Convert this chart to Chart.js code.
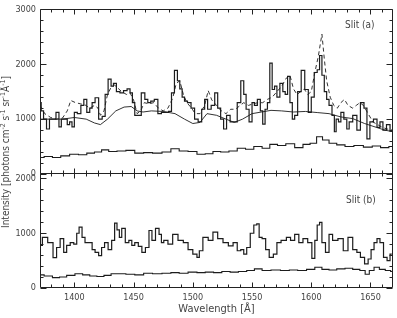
<!DOCTYPE html>
<html><head><meta charset="utf-8">
<script src="https://cdn.jsdelivr.net/npm/chart.js@4/dist/chart.umd.min.js"></script>
<style>
html,body{margin:0;padding:0;background:#fff;}
#wrap{position:relative;width:397px;height:318px;overflow:hidden;font-family:'Liberation Sans Narrow','DejaVu Sans Condensed','Liberation Sans',Arial,sans-serif;color:#444;}
canvas{position:absolute;left:0;top:0;}
.lbl{position:absolute;font-size:10px;white-space:nowrap;line-height:1;}
#ytitle{position:absolute;left:6px;top:152px;transform:translate(-50%,-50%) rotate(-90deg);font-size:10px;white-space:nowrap;line-height:1;}
#ytitle sup{font-size:7px;vertical-align:4px;line-height:0;}
</style></head><body>
<div id="wrap">
<canvas id="top" width="397" height="318"></canvas>
<canvas id="bot" width="397" height="318"></canvas>
<div id="ytitle">Intensity [photons cm<sup>-2</sup> s<sup>-1</sup> sr<sup>-1</sup>Å<sup>-1</sup>]</div>
<div class="lbl" style="left:345px;top:20px;">Slit (a)</div>
<div class="lbl" style="left:346px;top:195px;">Slit (b)</div>
</div>
<script>
// ---- data (wavelength in Å, intensity in photons cm^-2 s^-1 sr^-1 Å^-1) ----
const xTickLabels = [1400, 1450, 1500, 1550, 1600, 1650];
const yTicksTop = [0, 1000, 2000, 3000];
const yTicksBot = [0, 1000, 2000];

// Slit (a): observed spectrum (solid histogram)
const obsAWl = [1371,1373,1375,1378,1380,1383,1386,1388,1390,1393,1395,1397,1399,1401,1404,1407,1409,1412,1414,1416,1419,1422,1425,1427,1430,1432,1434,1437,1440,1443,1446,1448,1450,1452,1455,1458,1461,1463,1466,1469,1472,1475,1478,1481,1483,1486,1488,1490,1492,1494,1497,1500,1503,1506,1509,1511,1514,1517,1520,1522,1525,1527,1530,1533,1536,1539,1542,1544,1546,1549,1551,1553,1556,1558,1560,1562,1564,1566,1568,1570,1572,1575,1577,1579,1581,1583,1585,1587,1590,1593,1596,1599,1601,1604,1606,1608,1610,1612,1614,1616,1619,1620,1622,1624,1626,1629,1631,1633,1637,1640,1643,1646,1648,1651,1654,1657,1659,1662,1665,1668];
const obsA   = [1300,1150,1000,820,1000,1000,1125,860,1000,1000,900,950,860,1125,1100,1250,1360,1125,1200,1300,1390,1000,1050,1450,1730,1600,1650,1500,1480,1520,1550,1480,1300,1070,1070,1480,1360,1300,1330,1360,1100,1125,1125,1140,1480,1890,1700,1550,1400,1330,1300,1200,1000,950,1180,1360,1180,1250,1480,1200,1000,820,1070,950,950,1300,1700,1450,1180,950,1300,1250,1360,1150,910,1180,1300,2020,1540,1600,1400,1650,1500,1450,1780,1300,1000,1070,1500,1890,1540,1125,1400,1850,1900,2160,1800,1500,1360,1250,1070,770,1000,950,1125,1000,820,950,1070,800,1300,1200,640,950,1000,850,950,800,900,780];

// Slit (a): model (dashed)
const modelAWl = [1371,1375,1380,1385,1390,1394,1397,1401,1405,1409,1413,1417,1420,1422,1425,1428,1431,1434,1437,1440,1444,1447,1450,1453,1456,1459,1463,1467,1471,1475,1479,1483,1486,1489,1492,1495,1499,1502,1506,1510,1513,1516,1520,1524,1528,1532,1536,1540,1543,1547,1551,1555,1559,1563,1567,1571,1575,1579,1582,1585,1588,1591,1594,1597,1600,1603,1606,1609,1611,1613,1616,1619,1622,1625,1628,1631,1635,1638,1641,1644,1648,1652,1656,1660,1664,1669];
const modelA   = [1250,1100,1030,1000,1020,1150,1340,1300,1280,1260,1200,1250,1200,1070,1150,1450,1580,1620,1560,1500,1450,1480,1350,1100,1150,1300,1280,1300,1200,1150,1200,1380,1650,1700,1450,1300,1200,1100,1100,1250,1520,1350,1250,1150,1100,1180,1180,1250,1300,1250,1280,1300,1300,1360,1400,1500,1600,1750,1800,1550,1450,1500,1550,1450,1500,1850,2150,2550,2100,1700,1400,1250,1200,1300,1360,1250,1200,1250,1300,1250,1100,950,900,850,820,800];

// Slit (a): smooth continuum
const contAWl = [1371,1380,1390,1400,1410,1417,1422,1428,1435,1442,1448,1453,1458,1465,1475,1485,1493,1500,1506,1512,1520,1528,1535,1542,1550,1558,1566,1575,1585,1595,1605,1615,1625,1635,1645,1655,1662,1669];
const contA   = [1000,1000,1000,1030,1000,930,900,1000,1150,1220,1230,1150,1130,1150,1140,1100,1000,920,940,1100,1070,1000,940,1000,1100,1130,1160,1150,1130,1140,1120,1100,1040,1010,920,850,800,770];

// Slit (a): lower spectrum
const lowAWl = [1371,1378,1385,1392,1400,1407,1414,1420,1426,1432,1440,1447,1455,1462,1470,1478,1485,1492,1500,1507,1514,1520,1527,1534,1541,1548,1555,1562,1568,1575,1582,1590,1596,1602,1607,1612,1618,1625,1632,1640,1648,1655,1662,1669];
const lowA   = [300,320,300,330,360,350,380,400,440,410,420,430,380,390,380,400,460,420,410,360,370,410,400,420,470,450,500,470,540,520,550,480,540,560,680,620,560,530,500,520,490,510,480,500];

// Slit (b): observed spectrum
const obsBWl = [1371,1375,1380,1384,1386,1390,1392,1395,1398,1401,1403,1405,1408,1410,1414,1416,1419,1422,1424,1427,1430,1433,1435,1437,1439,1441,1445,1447,1450,1452,1456,1458,1462,1464,1467,1470,1473,1474,1477,1481,1485,1490,1494,1498,1502,1505,1506,1511,1515,1519,1523,1528,1532,1536,1539,1542,1544,1547,1550,1553,1555,1557,1560,1563,1566,1570,1572,1577,1581,1584,1588,1591,1595,1599,1602,1604,1606,1608,1610,1614,1616,1620,1625,1629,1633,1637,1640,1643,1647,1649,1652,1654,1657,1659,1663,1665,1668];
const obsB   = [780,925,830,555,740,900,650,780,830,800,1000,1110,925,830,830,700,650,590,740,830,700,870,1185,1060,925,1090,830,870,780,830,760,650,740,1050,870,1090,980,830,870,800,980,870,830,700,620,560,680,925,870,1020,900,830,770,830,680,700,620,740,1000,1150,1170,925,900,700,560,620,830,870,925,870,980,830,900,830,540,870,1150,1200,830,650,980,870,900,680,925,700,650,560,440,530,700,830,900,830,560,500,620];

// Slit (b): lower spectrum
const lowBWl = [1371,1378,1385,1390,1397,1404,1410,1416,1422,1428,1434,1440,1447,1455,1462,1470,1478,1485,1492,1500,1507,1514,1521,1528,1535,1542,1549,1555,1562,1570,1578,1585,1592,1600,1606,1612,1618,1625,1632,1638,1644,1647,1651,1655,1660,1665,1669];
const lowB   = [240,220,190,200,230,260,240,220,210,230,260,260,250,240,270,260,270,280,270,290,280,290,280,300,290,300,320,350,320,330,320,330,320,340,380,340,330,350,360,340,320,250,320,380,340,320,300];

// ---- helpers ----
const pts = (xs, ys) => xs.map((x, i) => ({x, y: ys[i]}));
const FONT = "'Liberation Sans Narrow','DejaVu Sans Condensed','Liberation Sans',Arial,sans-serif";
const INK = '#1c1c1c';

const frameTicks = {
  id: 'frameTicks',
  afterDatasetsDraw(chart) {
    const {ctx, chartArea: a, scales: {x, y}} = chart;
    const L = Math.round(a.left) + 0.5, R = Math.round(a.right) - 0.5;
    const T = Math.round(a.top) + 0.5, B = Math.round(a.bottom) - 0.5;
    ctx.save();
    ctx.strokeStyle = '#222';
    ctx.lineWidth = 1;
    ctx.beginPath();
    ctx.rect(L, T, R - L, B - T);
    for (let v = Math.ceil(x.min / 10) * 10; v <= x.max; v += 10) {
      const p = Math.round(x.getPixelForValue(v)) + 0.5;
      const len = v % 50 === 0 ? 5 : 3;
      ctx.moveTo(p, B); ctx.lineTo(p, B - len);
      ctx.moveTo(p, T); ctx.lineTo(p, T + len);
    }
    for (let v = 0; v <= y.max; v += 200) {
      const p = Math.round(y.getPixelForValue(v)) + 0.5;
      const len = v % 1000 === 0 ? 6 : 3;
      ctx.moveTo(L, p); ctx.lineTo(L + len, p);
      ctx.moveTo(R, p); ctx.lineTo(R - len, p);
    }
    ctx.stroke();
    ctx.restore();
  }
};

function ds(data, width, dash, stepped) {
  return {data, borderColor: INK, borderWidth: width, borderDash: dash || [], pointRadius: 0,
          stepped: stepped ? 'middle' : false, tension: 0, fill: false};
}

function yScale(max, ticks) {
  return {
    type: 'linear', min: 0, max,
    afterBuildTicks: s => { s.ticks = ticks.map(v => ({value: v})); },
    afterFit: s => { s.width = 40; },
    grid: {display: false, drawTicks: false},
    border: {display: false},
    ticks: {font: {family: FONT, size: 9}, color: '#444', padding: 4, callback: v => String(v)}
  };
}

const common = {
  responsive: false, animation: false, devicePixelRatio: 1,
  plugins: {legend: {display: false}, tooltip: {enabled: false}}
};

new Chart(document.getElementById('top'), {
  type: 'line',
  data: {datasets: [
    ds(pts(contAWl, contA), 0.9, null, false),
    ds(pts(lowAWl, lowA), 1.1, null, true),
    ds(pts(modelAWl, modelA), 0.9, [4, 3], false),
    ds(pts(obsAWl, obsA), 1.2, null, true)
  ]},
  options: Object.assign({}, common, {
    layout: {padding: {top: 5, right: 4, bottom: 318 - 174, left: 0}},
    scales: {
      x: {type: 'linear', min: 1371, max: 1669, display: false},
      y: yScale(3000, yTicksTop)
    }
  }),
  plugins: [frameTicks]
});

new Chart(document.getElementById('bot'), {
  type: 'line',
  data: {datasets: [
    ds(pts(lowBWl, lowB), 1.1, null, true),
    ds(pts(obsBWl, obsB), 1.2, null, true)
  ]},
  options: Object.assign({}, common, {
    layout: {padding: {top: 173, right: 4, bottom: 0, left: 0}},
    scales: {
      x: {
        type: 'linear', min: 1371, max: 1669,
        afterBuildTicks: s => { s.ticks = xTickLabels.map(v => ({value: v})); },
        afterFit: s => { s.height = 318 - 288; },
        grid: {display: false, drawTicks: false},
        border: {display: false},
        ticks: {font: {family: FONT, size: 9}, color: '#444', padding: 4, maxRotation: 0, callback: v => String(v)},
        title: {display: true, text: 'Wavelength [Å]', font: {family: FONT, size: 11}, color: '#444', padding: {top: 0, bottom: 2}}
      },
      y: yScale(2100, yTicksBot)
    }
  }),
  plugins: [frameTicks]
});
</script>
</body></html>
